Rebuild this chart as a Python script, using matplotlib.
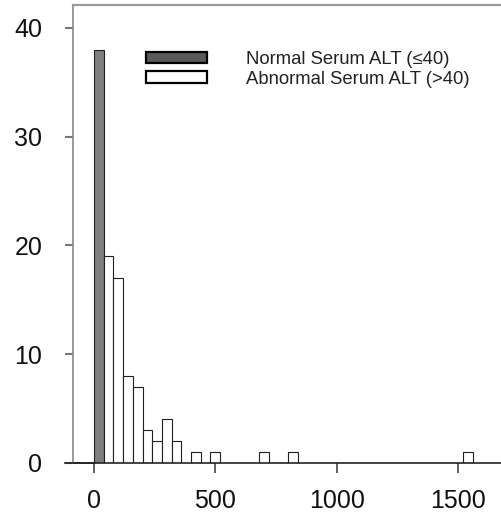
import matplotlib
matplotlib.use("Agg")
import matplotlib.pyplot as plt
from matplotlib.patches import Patch

# serum ALT histogram, 40 U/L bins
bin_width = 40
normal_left = [0]
normal_counts = [38]
abnormal_left = [40, 80, 120, 160, 200, 240, 280, 320, 400, 480, 680, 800, 1520]
abnormal_counts = [19, 17, 8, 7, 3, 2, 4, 2, 1, 1, 1, 1, 1]

x_ticks = [0, 500, 1000, 1500]
y_ticks = [0, 10, 20, 30, 40]
labels = ["Normal Serum ALT (\u226440)", "Abnormal Serum ALT (>40)"]

plt.rcParams['font.family'] = ['Liberation Sans', 'DejaVu Sans']

fig = plt.figure(figsize=(5.01, 5.19), dpi=100)
W, H = 501, 519
ax = fig.add_axes([73 / W, (H - 463) / H, (W - 73) / W, (463 - 5) / H])

ax.bar(normal_left, normal_counts, width=bin_width, align='edge',
       color='#7f7f7f', edgecolor='#202020', linewidth=0.8)
ax.bar(abnormal_left, abnormal_counts, width=bin_width, align='edge',
       color='white', edgecolor='#202020', linewidth=0.8)

ax.set_xlim(-86.5, 1677)
ax.set_ylim(0, 42.1)
ax.set_xticks(x_ticks)
ax.set_yticks(y_ticks)
ax.tick_params(axis='y', length=6, width=1.5, color='#777777', pad=16,
               labelsize=18, labelcolor='#111111')
ax.tick_params(axis='x', length=7.5, width=1.2, color='#444444', pad=11,
               labelsize=18, labelcolor='#111111')

ax.spines['right'].set_visible(False)
ax.spines['top'].set_color('#999999')
ax.spines['top'].set_linewidth(1.6)
ax.spines['left'].set_color('#888888')
ax.spines['left'].set_linewidth(1.2)
ax.spines['bottom'].set_color('#222222')
ax.spines['bottom'].set_linewidth(1.2)
# baseline runs a little past the y axis
ax.plot([-120, 0], [0, 0], color='#222222', linewidth=1.2, clip_on=False)

handles = [Patch(facecolor='#595959', edgecolor='black', linewidth=1.6),
           Patch(facecolor='white', edgecolor='black', linewidth=1.6)]
leg = ax.legend(handles, labels, loc='upper left', frameon=False,
                bbox_to_anchor=(146 / W, 1 - 51 / H), bbox_transform=fig.transFigure,
                fontsize=13.3, handlelength=3.3, handleheight=0.58,
                handletextpad=2.1, labelspacing=0.14, borderpad=0, borderaxespad=0)
for t in leg.get_texts():
    t.set_color('#222222')

fig.savefig('out.png', dpi=100)
